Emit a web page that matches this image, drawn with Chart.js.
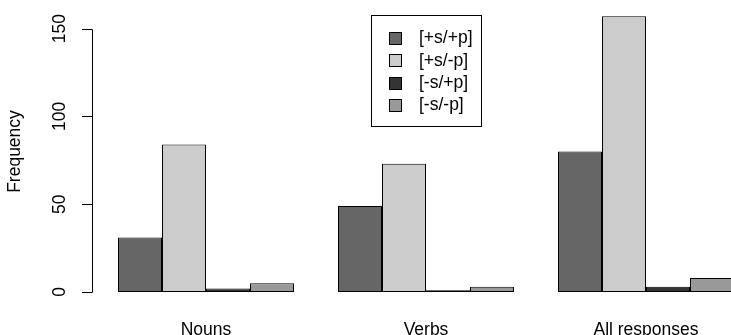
<!DOCTYPE html>
<html>
<head>
<meta charset="utf-8">
<script src="https://cdn.jsdelivr.net/npm/chart.js@4"></script>
<style>
  html, body { margin: 0; padding: 0; background: #fff; overflow: hidden; width: 731px; height: 335px; }
  #wrap { position: relative; width: 759px; height: 336px; }
</style>
</head>
<body>
<div id="wrap"><canvas id="freqChart"></canvas></div>
<script>
// data
const categories = ['Nouns', 'Verbs', 'All responses'];
const seriesNames = ['[+s/+p]', '[+s/-p]', '[-s/+p]', '[-s/-p]'];
const plusSplusP = [31, 49, 80];
const plusSminusP = [84, 73, 157];
const minusSplusP = [2, 1, 3];
const minusSminusP = [5, 3, 8];
const yTicks = [0, 50, 100, 150];

const seriesValues = [plusSplusP, plusSminusP, minusSplusP, minusSminusP];
const fills = ['#666666', '#cccccc', '#333333', '#999999'];
const FONT = { family: 'Liberation Sans, Arial, sans-serif', size: 17.5 };

// R style axis: line only between first and last tick, ticks outward
const rAxis = {
    id: 'rAxis',
    afterDraw(chart) {
        const ctx = chart.ctx;
        const ys = chart.scales.y;
        const x = Math.round(chart.chartArea.left - 4) + 0.5;
        const px = v => Math.round(ys.getPixelForValue(v)) + 0.5;
        ctx.save();
        ctx.strokeStyle = '#000';
        ctx.lineWidth = 1;
        ctx.beginPath();
        ctx.moveTo(x, px(yTicks[0]));
        ctx.lineTo(x, px(yTicks[yTicks.length - 1]));
        yTicks.forEach(v => {
            ctx.moveTo(x, px(v));
            ctx.lineTo(x - 10.5, px(v));
        });
        ctx.stroke();
        ctx.restore();
    }
};

// boxed legend inside the plot, like R's legend()
const boxLegend = {
    id: 'boxLegend',
    afterDraw(chart) {
        const ctx = chart.ctx;
        const left = 371.5, top = 15.5, w = 110, h = 111;
        ctx.save();
        ctx.fillStyle = '#fff';
        ctx.fillRect(left, top, w, h);
        ctx.strokeStyle = '#000';
        ctx.lineWidth = 1;
        ctx.strokeRect(left, top, w, h);
        ctx.font = FONT.size + 'px ' + FONT.family;
        ctx.textBaseline = 'middle';
        chart.data.datasets.forEach((ds, i) => {
            const cy = 38.5 + i * 22.3;
            const sy = Math.round(cy - 6.5) + 0.5;
            ctx.fillStyle = ds.backgroundColor;
            ctx.fillRect(389.5, sy, 12, 12);
            ctx.strokeRect(389.5, sy, 12, 12);
            ctx.fillStyle = '#000';
            ctx.fillText(ds.label, 419, cy);
        });
        ctx.restore();
    }
};

const ctx = document.getElementById('freqChart').getContext('2d');
new Chart(ctx, {
    type: 'bar',
    data: {
        labels: categories,
        datasets: seriesNames.map((name, i) => ({
            label: name,
            data: seriesValues[i],
            backgroundColor: fills[i],
            borderColor: '#000',
            borderWidth: 1,
            borderSkipped: false
        }))
    },
    options: {
        responsive: true,
        maintainAspectRatio: false,
        animation: false,
        layout: { padding: { top: 11, right: 3, left: 0, bottom: 0 } },
        datasets: { bar: { categoryPercentage: 0.8, barPercentage: 1 } },
        plugins: {
            legend: { display: false },
            tooltip: { enabled: false }
        },
        scales: {
            x: {
                grid: { display: false },
                border: { display: false },
                ticks: { color: '#000', font: FONT, padding: 20 },
                afterFit: s => { s.height = 44; }
            },
            y: {
                min: 0,
                max: 160,
                grid: { display: false, drawTicks: false },
                border: { display: false },
                ticks: {
                    stepSize: 50,
                    color: '#000',
                    font: FONT,
                    padding: 21,
                    minRotation: 90,
                    maxRotation: 90,
                    crossAlign: 'center'
                },
                afterBuildTicks: s => {
                    s.ticks = yTicks.map(v => ({ value: v }));
                },
                afterFit: s => {
                    s.width = 96;
                    s.paddingTop = 0;
                    s.paddingBottom = 0;
                },
                title: {
                    display: true,
                    text: 'Frequency',
                    color: '#000',
                    font: FONT,
                    padding: 5
                }
            }
        }
    },
    plugins: [rAxis, boxLegend]
});
</script>
</body>
</html>
